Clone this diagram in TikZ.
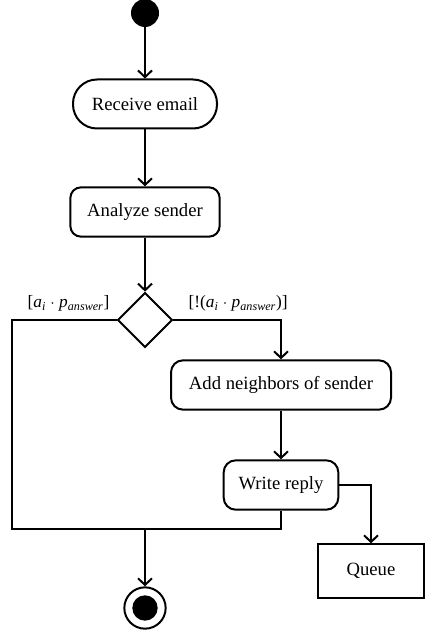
\documentclass[tikz,border=0pt]{standalone}
\usepackage{fontspec}
\setmainfont{Liberation Serif}
\usetikzlibrary{shapes.geometric, arrows.meta}
\tikzstyle{start} = [circle, fill=black, minimum size=21pt, inner sep=0pt]
\tikzstyle{stop} = [circle, draw=black, line width=1.5pt, minimum size=31pt, inner sep=0pt, path picture={\fill[black] (path picture bounding box.center) circle (9.5pt);}]
\tikzstyle{activity} = [rectangle, draw=black, line width=1.5pt, rounded corners=18pt, minimum height=36.75pt, text centered]
\tikzstyle{process} = [rectangle, draw=black, line width=1.5pt, rounded corners=8pt, minimum height=37pt, text centered]
\tikzstyle{decision} = [diamond, draw=black, line width=1.5pt, minimum width=41pt, minimum height=41pt, inner sep=0pt]
\tikzstyle{store} = [rectangle, draw=black, line width=1.5pt, minimum width=79.5pt, minimum height=40pt, text centered]
\tikzstyle{guard} = [font=\fontsize{13}{15}\selectfont, inner sep=1pt]
\tikzstyle{arrow} = [line width=1.5pt,-{Straight Barb[length=5pt,width=10.5pt]}]
\tikzstyle{line} = [line width=1.5pt]

\begin{document}
\begin{tikzpicture}[x=0.75pt,y=-0.75pt,font=\fontsize{14}{17}\selectfont]
\useasboundingbox (0,0) rectangle (425,634);
\node (start) [start] at (145,13) {};
\node (recv) [activity, minimum width=108pt] at (145,104) {Receive email};
\node (anal) [process, minimum width=112pt] at (145,212) {Analyze sender};
\node (dec) [decision] at (145,320) {};
\node (add) [process, minimum width=165pt, rounded corners=9pt] at (281,385) {Add neighbors of sender};
\node (reply) [process, minimum width=86pt, rounded corners=9pt] at (281,485) {Write reply};
\node (queue) [store] at (371,571) {Queue};
\node (stop) [stop] at (145,608) {};

\node (gyes) [guard, anchor=south east] at (111,313) {[\textit{a\textsubscript{i}} $\cdot$ \textit{p\textsubscript{answer}}]};
\node (gno) [guard, anchor=south west] at (187,313) {[!(\textit{a\textsubscript{i}} $\cdot$ \textit{p\textsubscript{answer}})]};

\coordinate (lc) at (12,529);
\coordinate (merge) at (145,529);

\draw [arrow] (start) -- (recv);
\draw [arrow] (recv) -- (anal);
\draw [arrow] (anal) -- (dec);
\draw [arrow] (dec.east) -| (add.north);
\draw [line] (dec.west) -| (lc) -| (reply.south);
\draw [arrow] (add) -- (reply);
\draw [arrow] (reply.east) -| (queue.north);
\draw [arrow] (merge) -- (stop);
\end{tikzpicture}
\end{document}
